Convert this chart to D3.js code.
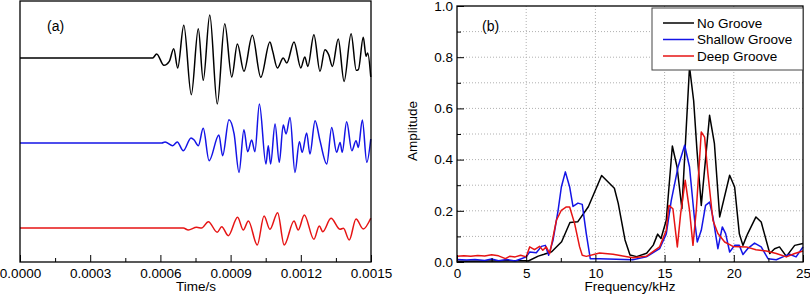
<!DOCTYPE html>
<html>
<head>
<meta charset="utf-8">
<script src="https://cdn.jsdelivr.net/npm/d3@7"></script>
<style>
  body { margin: 0; background: #fff; }
  svg { display: block; font-family: "Liberation Sans", Arial, sans-serif; }
</style>
</head>
<body>
<div id="chart"></div>
<script>
// ---- data: (a) time signals, offsets between traces
const seriesNames = ["No Groove", "Shallow Groove", "Deep Groove"];
const seriesColors = ["#000000", "#1414e6", "#e61414"];
const traceOffsets = [2, 0, -2];
const timeTicks = [0, 0.0003, 0.0006, 0.0009, 0.0012, 0.0015];

const tNoGroove = [0, 0.000567, 0.000584, 0.000615, 0.000638, 0.000657, 0.000674, 0.000700, 0.000732, 0.000762, 0.000783,
  0.000811, 0.000843, 0.000875, 0.000905, 0.000929, 0.000957, 0.000993, 0.001029, 0.001068, 0.001080, 0.001100,
  0.001125, 0.001140, 0.001171, 0.001200, 0.001217, 0.001230, 0.001256, 0.001282, 0.001303, 0.001319, 0.001335,
  0.001360, 0.001385, 0.001415, 0.001437, 0.001446, 0.001467, 0.001479, 0.001486, 0.001499];
const aNoGroove = [0, 0, 0.094, -0.174, -0.080, 0.219, -0.235, 0.767, -0.864, 0.689, -0.527,
  1.012, -1.082, 0.807, -0.447, 0.329, -0.315, 0.532, -0.456, 0.376, 0.155, -0.235,
  0, -0.118, 0.376, -0.235, 0.024, -0.198, 0.548, -0.315, 0.195, 0.078, -0.198,
  0.447, -0.551, 0.572, -0.292, -0.275, 0.485, 0.038, 0.118, -0.447];

const tShallow = [0, 0.000606, 0.000620, 0.000653, 0.000672, 0.000698, 0.000731, 0.000744, 0.000762, 0.000783, 0.000808,
  0.000850, 0.000866, 0.000893, 0.000915, 0.000936, 0.000957, 0.000973, 0.000990, 0.001004, 0.001023, 0.001051,
  0.001061, 0.001071, 0.001090, 0.001108, 0.001125, 0.001137, 0.001154, 0.001175, 0.001194, 0.001206, 0.001225,
  0.001239, 0.001261, 0.001282, 0.001311, 0.001332, 0.001353, 0.001368, 0.001377, 0.001396, 0.001418, 0.001436,
  0.001446, 0.001463, 0.001482, 0.001499];
const aShallow = [0, 0, 0.024, -0.064, 0.024, -0.181, 0.118, 0.071, -0.064, 0.344, -0.416,
  0.188, -0.299, 0.548, 0.212, -0.692, 0.313, -0.205, 0.071, -0.205, 0.918, -0.494,
  -0.064, -0.494, 0.447, -0.456, 0.424, 0.212, 0.602, -0.692, 0.031, -0.221, 0.235,
  -0.259, 0.525, 0.054, -0.494, 0.367, -0.221, 0.014, -0.221, 0.501, -0.181, 0.054,
  -0.104, 0.541, -0.456, 0.094];

const tDeep = [0, 0.000698, 0.000719, 0.000755, 0.000776, 0.000805, 0.000843, 0.000862, 0.000890, 0.000930, 0.000954,
  0.000976, 0.001014, 0.001043, 0.001068, 0.001101, 0.001129, 0.001171, 0.001189, 0.001215, 0.001256, 0.001279,
  0.001294, 0.001329, 0.001368, 0.001382, 0.001407, 0.001436, 0.001467, 0.001499];
const aDeep = [0, 0, -0.047, 0.016, 0, 0.148, -0.101, 0.031, -0.181, 0.252, -0.047,
  0.165, -0.400, 0.282, -0.031, 0.360, -0.400, 0.165, -0.047, 0.306, -0.266, 0.047,
  -0.087, 0.228, -0.031, -0.007, -0.282, 0.212, -0.024, 0.228];

// ---- data: (b) amplitude spectra
const freqTicks = [0, 5, 10, 15, 20, 25];
const ampTicks = [0, 0.2, 0.4, 0.6, 0.8, 1.0];

const fNoGroove = [0, 2.5, 5.0, 5.15, 5.87, 6.3, 6.84, 7.56, 8.16, 8.72, 9.49, 10.45, 11.37, 11.65, 12.14, 12.5, 12.98, 13.7,
  14.18, 14.5, 14.74, 15.12, 15.56, 15.9, 16.25, 16.8, 17.1, 17.34, 17.65, 18.25, 18.6, 18.98, 19.7, 20.06,
  20.4, 20.66, 21.0, 21.6, 21.98, 22.6, 22.95, 23.3, 23.8, 24.4, 25];
const sNoGroove = [0.003, 0.004, 0.005, 0.004, 0.023, 0.03, 0.04, 0.079, 0.154, 0.157, 0.216, 0.338, 0.288, 0.229, 0.086, 0.027, 0.021, 0.034,
  0.066, 0.109, 0.092, 0.163, 0.453, 0.371, 0.208, 0.762, 0.63, 0.436, 0.221, 0.573, 0.462, 0.176, 0.339, 0.293,
  0.11, 0.065, 0.11, 0.176, 0.156, 0.033, 0.052, 0.059, 0.022, 0.065, 0.072];

const fShallow = [0, 0.7, 1.3, 2.0, 2.5, 3.0, 3.6, 4.2, 4.6, 5.0, 5.25, 5.73, 6.1, 6.38, 6.62, 6.94, 7.3, 7.54, 7.83, 8.14,
  8.38, 8.74, 9.05, 9.34, 9.63, 10.3, 12.7, 13.68, 14.64, 15.12, 15.48, 15.97, 16.45, 16.8, 17.17, 17.36,
  17.65, 17.96, 18.25, 18.49, 18.85, 19.17, 19.41, 19.7, 20.06, 20.4, 20.66, 21.0, 21.5, 21.98, 22.47,
  23.07, 23.55, 24.03, 24.5, 25];
const sShallow = [0.01, 0.008, 0.01, 0.006, 0.012, 0.005, 0.01, 0.004, 0.012, 0.02, 0.039, 0.036, 0.061, 0.065, 0.026, 0.085, 0.2, 0.293, 0.352, 0.293,
  0.217, 0.23, 0.225, 0.111, 0.013, 0.013, 0.009, 0.02, 0.052, 0.11, 0.24, 0.371, 0.456, 0.371, 0.163, 0.078,
  0.124, 0.221, 0.234, 0.176, 0.052, 0.137, 0.111, 0.039, 0.065, 0.065, 0.029, 0.052, 0.074, 0.059, 0.013,
  0.009, 0.02, 0.03, 0.02, 0.059];

const fDeep = [0, 0.5, 1.0, 1.5, 2.0, 2.5, 3.0, 3.5, 3.8, 4.2, 4.6, 5.0, 5.25, 5.6, 5.97, 6.2, 6.45, 6.7, 7.18, 7.54, 7.9,
  8.14, 8.5, 8.86, 9.05, 9.34, 10.3, 11.27, 12.7, 13.68, 14.64, 15.12, 15.31, 15.6, 15.92, 16.16, 16.49,
  16.8, 17.05, 17.29, 17.65, 17.89, 18.13, 18.49, 18.85, 19.34, 19.94, 20.9, 21.6, 22.35, 23.07, 23.8,
  24.4, 25];
const sDeep = [0.022, 0.024, 0.022, 0.025, 0.023, 0.028, 0.024, 0.013, 0.022, 0.02, 0.026, 0.02, 0.059, 0.048, 0.061, 0.046, 0.059, 0.033, 0.163, 0.202, 0.215,
  0.215, 0.15, 0.059, 0.026, 0.022, 0.035, 0.03, 0.017, 0.022, 0.059, 0.124, 0.221, 0.208, 0.059, 0.189, 0.319,
  0.202, 0.065, 0.202, 0.508, 0.488, 0.345, 0.163, 0.111, 0.078, 0.061, 0.059, 0.048, 0.043, 0.033, 0.02,
  0.033, 0.043];

const width = 810, height = 295;
const font = "13.5px";
const lineW = 1.5;

const svg = d3.select("#chart").append("svg")
  .attr("width", width)
  .attr("height", height)
  .attr("viewBox", [0, 0, width, height]);

// ================= panel (a) =================
const xa = d3.scaleLinear().domain([0, 0.0015]).range([20, 371]);
const ya = d3.scaleLinear().domain([-2.8, 3.34]).range([262, 1]);

const signals = [
  { t: tNoGroove, a: aNoGroove },
  { t: tShallow, a: aShallow },
  { t: tDeep, a: aDeep }
];

const lineA = d3.line()
  .x(d => xa(d[0]))
  .y(d => ya(d[1]))
  .curve(d3.curveMonotoneX);

signals.forEach((s, i) => {
  const pts = s.t.map((t, j) => [t, s.a[j] + traceOffsets[i]]);
  svg.append("path")
    .attr("d", lineA(pts))
    .attr("fill", "none")
    .attr("stroke", seriesColors[i])
    .attr("stroke-width", lineW);
});

// minor ticks
svg.append("g")
  .attr("transform", "translate(0,262)")
  .call(d3.axisBottom(xa).tickValues(d3.range(0.00015, 0.0015, 0.0003)).tickSize(-4).tickFormat(""))
  .call(g => g.select(".domain").remove());

svg.append("g")
  .attr("transform", "translate(0,262)")
  .call(d3.axisBottom(xa).tickValues(timeTicks).tickSize(-7).tickPadding(6).tickFormat(d3.format(".4f")))
  .call(g => g.select(".domain").remove())
  .call(g => g.selectAll("text").attr("font-size", font).attr("font-family", "Liberation Sans, Arial, sans-serif").attr("fill", "#000"));

svg.append("rect")
  .attr("x", 20).attr("y", 1).attr("width", 351).attr("height", 261)
  .attr("fill", "none").attr("stroke", "#000").attr("stroke-width", 1.3);

svg.append("text")
  .attr("x", 47).attr("y", 31)
  .attr("font-size", "14px")
  .text("(a)");

svg.append("text")
  .attr("x", 196).attr("y", 291)
  .attr("text-anchor", "middle")
  .attr("font-size", font)
  .text("Time/s");

// ================= panel (b) =================
const xb = d3.scaleLinear().domain([0, 25]).range([457, 803]);
const yb = d3.scaleLinear().domain([0, 1]).range([262, 6]);

// grid
svg.append("g")
  .selectAll("line")
  .data(d3.range(1, 10).map(d => d / 10))
  .join("line")
  .attr("x1", xb(0)).attr("x2", xb(25))
  .attr("y1", d => yb(d)).attr("y2", d => yb(d))
  .attr("stroke", "#b0b0b0").attr("stroke-width", 1).attr("stroke-dasharray", "1,2");
svg.append("g")
  .selectAll("line")
  .data([5, 10, 15, 20])
  .join("line")
  .attr("x1", d => xb(d)).attr("x2", d => xb(d))
  .attr("y1", yb(0)).attr("y2", yb(1))
  .attr("stroke", "#b0b0b0").attr("stroke-width", 1).attr("stroke-dasharray", "1,2");

const spectra = [
  { f: fNoGroove, s: sNoGroove },
  { f: fShallow, s: sShallow },
  { f: fDeep, s: sDeep }
];

const lineB = d3.line()
  .x(d => xb(d[0]))
  .y(d => yb(d[1]));

spectra.forEach((s, i) => {
  svg.append("path")
    .attr("d", lineB(s.f.map((f, j) => [f, s.s[j]])))
    .attr("fill", "none")
    .attr("stroke", seriesColors[i])
    .attr("stroke-width", lineW)
    .attr("stroke-linejoin", "round");
});

// axes
svg.append("g")
  .attr("transform", "translate(0,262)")
  .call(d3.axisBottom(xb).tickValues(d3.range(2.5, 25, 5)).tickSize(-4).tickFormat(""))
  .call(g => g.select(".domain").remove());
svg.append("g")
  .attr("transform", "translate(0,262)")
  .call(d3.axisBottom(xb).tickValues(freqTicks).tickSize(-7).tickPadding(6).tickFormat(d3.format("d")))
  .call(g => g.select(".domain").remove())
  .call(g => g.selectAll("text").attr("font-size", font).attr("font-family", "Liberation Sans, Arial, sans-serif").attr("fill", "#000"));

svg.append("g")
  .attr("transform", "translate(457,0)")
  .call(d3.axisLeft(yb).tickValues(d3.range(0.1, 1, 0.2)).tickSize(-4).tickFormat(""))
  .call(g => g.select(".domain").remove());
svg.append("g")
  .attr("transform", "translate(457,0)")
  .call(d3.axisLeft(yb).tickValues(ampTicks).tickSize(-7).tickPadding(4).tickFormat(d3.format(".1f")))
  .call(g => g.select(".domain").remove())
  .call(g => g.selectAll("text").attr("font-size", font).attr("font-family", "Liberation Sans, Arial, sans-serif").attr("fill", "#000"));

svg.append("rect")
  .attr("x", 457).attr("y", 6).attr("width", 346).attr("height", 256)
  .attr("fill", "none").attr("stroke", "#000").attr("stroke-width", 1.3);

svg.append("text")
  .attr("x", 482).attr("y", 31)
  .attr("font-size", "14px")
  .text("(b)");

svg.append("text")
  .attr("x", 630).attr("y", 291)
  .attr("text-anchor", "middle")
  .attr("font-size", font)
  .text("Frequency/kHz");

svg.append("text")
  .attr("transform", "translate(417,131) rotate(-90)")
  .attr("text-anchor", "middle")
  .attr("font-size", font)
  .text("Amplitude");

// legend
const legend = svg.append("g");
legend.append("rect")
  .attr("x", 652).attr("y", 8).attr("width", 151).attr("height", 62)
  .attr("fill", "#fff").attr("stroke", "#444").attr("stroke-width", 1);
seriesNames.forEach((name, i) => {
  const y = 23 + i * 16.5;
  legend.append("line")
    .attr("x1", 663).attr("x2", 694).attr("y1", y).attr("y2", y)
    .attr("stroke", seriesColors[i]).attr("stroke-width", lineW);
  legend.append("text")
    .attr("x", 697).attr("y", y + 4.5)
    .attr("font-size", font)
    .text(name);
});
</script>
</body>
</html>
